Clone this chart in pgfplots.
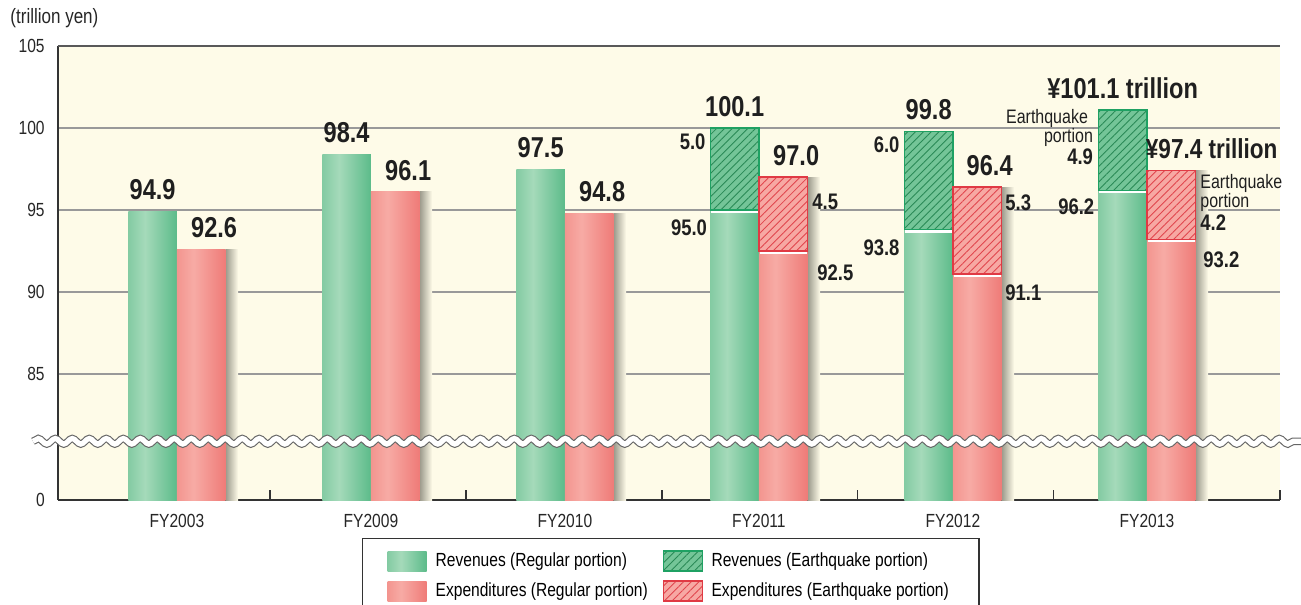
\documentclass[border=0pt]{standalone}
\usepackage{fontspec}
\setmainfont{Liberation Sans}[FakeStretch=0.82]
\usepackage{pgfplots}
\pgfplotsset{compat=1.18}
\usetikzlibrary{patterns.meta,decorations.pathmorphing}

\definecolor{cream}{HTML}{FEFBE8}
\definecolor{gA}{HTML}{84CBA3}
\definecolor{gB}{HTML}{A5DABA}
\definecolor{gC}{HTML}{5CBB8A}
\definecolor{rA}{HTML}{F3958F}
\definecolor{rB}{HTML}{F7ABA5}
\definecolor{rC}{HTML}{EF7B78}
\definecolor{eqG}{HTML}{74C598}
\definecolor{eqGline}{HTML}{2A8956}
\definecolor{eqGedge}{HTML}{1FA163}
\definecolor{eqR}{HTML}{F7A8A3}
\definecolor{eqRline}{HTML}{E0454D}
\definecolor{eqRedge}{HTML}{E03A44}
\definecolor{shad}{HTML}{9A988A}

\pgfdeclarehorizontalshading{greenbar}{100bp}{color(0bp)=(gA); color(25bp)=(gA); color(42bp)=(gB); color(75bp)=(gC); color(100bp)=(gC)}
\pgfdeclarehorizontalshading{redbar}{100bp}{color(0bp)=(rA); color(25bp)=(rA); color(42bp)=(rB); color(75bp)=(rC); color(100bp)=(rC)}
\pgfdeclarehorizontalshading{barshadow}{100bp}{color(0bp)=(shad); color(25bp)=(shad); color(75bp)=(cream); color(100bp)=(cream)}

\tikzset{
  eqgreen/.style={fill=eqG, draw=eqGedge, line width=0.6pt,
    postaction={pattern={Lines[angle=45,distance=2.2pt,line width=0.35pt]}, pattern color=eqGline}},
  eqred/.style={fill=eqR, draw=eqRedge, line width=0.6pt,
    postaction={pattern={Lines[angle=45,distance=2.2pt,line width=0.35pt]}, pattern color=eqRline}},
  big/.style={font=\bfseries\fontsize{11.5}{12}\selectfont, inner sep=0pt, anchor=south, yshift=4.4pt, text=black!88},
  sm/.style={font=\bfseries\fontsize{9}{10}\selectfont, inner sep=0pt, text=black!88},
  eq/.style={font=\fontsize{7.8}{8}\selectfont, inner sep=0pt, text=black!88},
}
\pgfplotsset{
  base/.style={scale only axis, width=488.8pt, height=181.6pt,
    xmin=-0.613, xmax=5.686, ymin=77.32, ymax=105,
    at={(0,0)}, anchor=south west, clip mode=individual, bar width=0.25},
  gbar/.style={forget plot, ybar, bar shift=0pt, draw=none, shade, shading=greenbar},
  rbar/.style={forget plot, ybar, bar shift=0pt, draw=none, shade, shading=redbar},
  sbar/.style={forget plot, ybar, bar shift=0pt, bar width=0.065, draw=none, shade, shading=barshadow},
}

\begin{document}
\begin{tikzpicture}
\useasboundingbox (-23.2pt,-41.6pt) rectangle (497.2pt,200pt);

% main axis: frame, grid, ticks, regular bars (one plot per bar so each is shaded on its own), legend
\begin{axis}[base,
  axis background/.style={fill=cream},
  axis x line*=bottom, axis y line*=left,
  axis line style={-, black!80, line width=0.6pt},
  ytick={77.32,85,90,95,100}, yticklabels={0,85,90,95,100},
  extra y ticks={105}, extra y tick labels={105},
  extra y tick style={grid style={black!65, line width=0.7pt}},
  ymajorgrids, grid style={black!40, line width=0.8pt},
  major tick length=0pt,
  xtick={0,...,5}, xticklabels={FY2003,FY2009,FY2010,FY2011,FY2012,FY2013},
  extra x ticks={0.48,1.49,2.5,3.51,4.52,5.686}, extra x tick labels={},
  extra x tick style={major tick length=4pt, tick align=inside, major tick style={black!80, line width=0.5pt}},
  tick label style={font=\fontsize{7.6}{9}\selectfont, text=black!85},
  yticklabel style={xshift=-1.8pt},
  xticklabel style={yshift=-2pt},
  legend columns=2, legend cell align=left,
  legend style={at={(0.2488,-0.0837)}, anchor=north west, draw=black!80, line width=0.5pt,
    fill=white, font=\fontsize{7.6}{9}\selectfont, inner xsep=10pt, inner ysep=3.5pt,
    row sep=1pt, /tikz/every even column/.append style={column sep=4pt}},
]
% shadows to the right of the expenditure bars
\addplot[sbar] coordinates {(0.2825,92.6)};
\addplot[sbar] coordinates {(1.2825,96.1)};
\addplot[sbar] coordinates {(2.2825,94.8)};
\addplot[sbar] coordinates {(3.2825,97.0)};
\addplot[sbar] coordinates {(4.2825,96.4)};
\addplot[sbar] coordinates {(5.2825,97.4)};
% revenues, regular portion
\addplot[gbar] coordinates {(-0.125,94.9)};
\addplot[gbar] coordinates {(0.875,98.4)};
\addplot[gbar] coordinates {(1.875,97.5)};
\addplot[gbar] coordinates {(2.875,95.0)};
\addplot[gbar] coordinates {(3.875,93.8)};
\addplot[gbar] coordinates {(4.875,96.2)};
% expenditures, regular portion
\addplot[rbar] coordinates {(0.125,92.6)};
\addplot[rbar] coordinates {(1.125,96.1)};
\addplot[rbar] coordinates {(2.125,94.8)};
\addplot[rbar] coordinates {(3.125,92.5)};
\addplot[rbar] coordinates {(4.125,91.1)};
\addplot[rbar] coordinates {(5.125,93.2)};

\addlegendimage{legend image code/.code={\shade[shading=greenbar, draw=none] (0pt,-4pt) rectangle (15.6pt,4pt); \path[draw=none, fill=none] (0pt,-4pt) rectangle (17.2pt,4pt);}}
\addlegendentry{Revenues (Regular portion)}
\addlegendimage{legend image code/.code={\draw[eqgreen] (0pt,-4pt) rectangle (15.6pt,4pt); \path[draw=none, fill=none] (0pt,-4pt) rectangle (17.2pt,4pt);}}
\addlegendentry{Revenues (Earthquake portion)}
\addlegendimage{legend image code/.code={\shade[shading=redbar, draw=none] (0pt,-4pt) rectangle (15.6pt,4pt); \path[draw=none, fill=none] (0pt,-4pt) rectangle (17.2pt,4pt);}}
\addlegendentry{Expenditures (Regular portion)}
\addlegendimage{legend image code/.code={\draw[eqred] (0pt,-4pt) rectangle (15.6pt,4pt); \path[draw=none, fill=none] (0pt,-4pt) rectangle (17.2pt,4pt);}}
\addlegendentry{Expenditures (Earthquake portion)}
\end{axis}

% revenues FY2011-FY2013: earthquake portion stacked on the regular portion
\begin{axis}[base, hide axis, ybar stacked]
\addplot[draw=none, fill=none] coordinates {(2.875,95.0) (3.875,93.8) (4.875,96.2)};
\addplot[eqgreen] coordinates {(2.875,5.0) (3.875,6.0) (4.875,4.9)};
\end{axis}

% expenditures FY2011-FY2013: earthquake portion stacked on the regular portion
\begin{axis}[base, hide axis, ybar stacked]
\addplot[draw=none, fill=none] coordinates {(3.125,92.5) (4.125,91.1) (5.125,93.2)};
\addplot[eqred] coordinates {(3.125,4.5) (4.125,5.3) (5.125,4.2)};
\end{axis}

% annotations
\begin{axis}[base, hide axis]
\addplot[only marks, mark=-, mark size=9.4pt, white, line width=0.9pt, mark options={yshift=-0.7pt}]
  coordinates {(2.875,95.0) (3.875,93.8) (4.875,96.2) (3.125,92.5) (4.125,91.1) (5.125,93.2)};

\draw[decorate, decoration={snake, segment length=6.8pt, amplitude=1.1pt}, draw=black!60, line width=3pt]
  (axis cs:-0.742,80.9) -- (axis cs:5.794,80.9);
\draw[decorate, decoration={snake, segment length=6.8pt, amplitude=1.1pt}, draw=white, line width=2.1pt]
  (axis cs:-0.742,80.9) -- (axis cs:5.794,80.9);

\node[anchor=west, inner sep=0pt, font=\fontsize{8.3}{9}\selectfont, text=black!85] at (rel axis cs:-0.0393,1.0617) {(trillion yen)};

\node[big] at (axis cs:-0.125,94.9) {94.9};
\node[big, xshift=5.2pt] at (axis cs:0.125,92.6) {92.6};
\node[big] at (axis cs:0.875,98.4) {98.4};
\node[big, xshift=5.2pt] at (axis cs:1.125,96.1) {96.1};
\node[big] at (axis cs:1.875,97.5) {97.5};
\node[big, xshift=5.2pt] at (axis cs:2.125,94.8) {94.8};
\node[big] at (axis cs:2.875,100.0) {100.1};
\node[big, xshift=5.2pt] at (axis cs:3.125,97.0) {97.0};
\node[big] at (axis cs:3.875,99.8) {99.8};
\node[big, xshift=5pt] at (axis cs:4.125,96.4) {96.4};
\node[big] at (axis cs:4.875,101.1) {¥101.1 trillion};
\node[big, anchor=south west, font=\bfseries\fontsize{11}{12}\selectfont, xshift=-0.6pt] at (axis cs:5.0,97.4) {¥97.4 trillion};

\node[sm, anchor=east, xshift=-1.8pt] at (axis cs:2.75,99.15) {5.0};
\node[sm, anchor=east, xshift=-1.2pt] at (axis cs:2.75,93.9) {95.0};
\node[sm, anchor=west, xshift=1.8pt] at (axis cs:3.25,95.5) {4.5};
\node[sm, anchor=west, xshift=3.8pt] at (axis cs:3.25,91.2) {92.5};
\node[sm, anchor=east, xshift=-1.8pt] at (axis cs:3.75,98.96) {6.0};
\node[sm, anchor=east, xshift=-1.8pt] at (axis cs:3.75,92.68) {93.8};
\node[sm, anchor=west, xshift=1.4pt] at (axis cs:4.25,95.43) {5.3};
\node[sm, anchor=west, xshift=1.4pt] at (axis cs:4.25,89.94) {91.1};
\node[eq, anchor=east, xshift=-4pt] at (axis cs:4.75,100.61) {Earthquake};
\node[eq, anchor=east, xshift=-2pt] at (axis cs:4.75,99.45) {portion};
\node[sm, anchor=east, xshift=-2pt] at (axis cs:4.75,98.23) {4.9};
\node[sm, anchor=east, xshift=-1.5pt] at (axis cs:4.75,95.18) {96.2};
\node[eq, anchor=west, xshift=1.8pt] at (axis cs:5.25,96.65) {Earthquake};
\node[eq, anchor=west, xshift=1.8pt] at (axis cs:5.25,95.49) {portion};
\node[sm, anchor=west, xshift=1.8pt] at (axis cs:5.25,94.21) {4.2};
\node[sm, anchor=west, xshift=3pt] at (axis cs:5.25,91.95) {93.2};
\end{axis}
\end{tikzpicture}
\end{document}
